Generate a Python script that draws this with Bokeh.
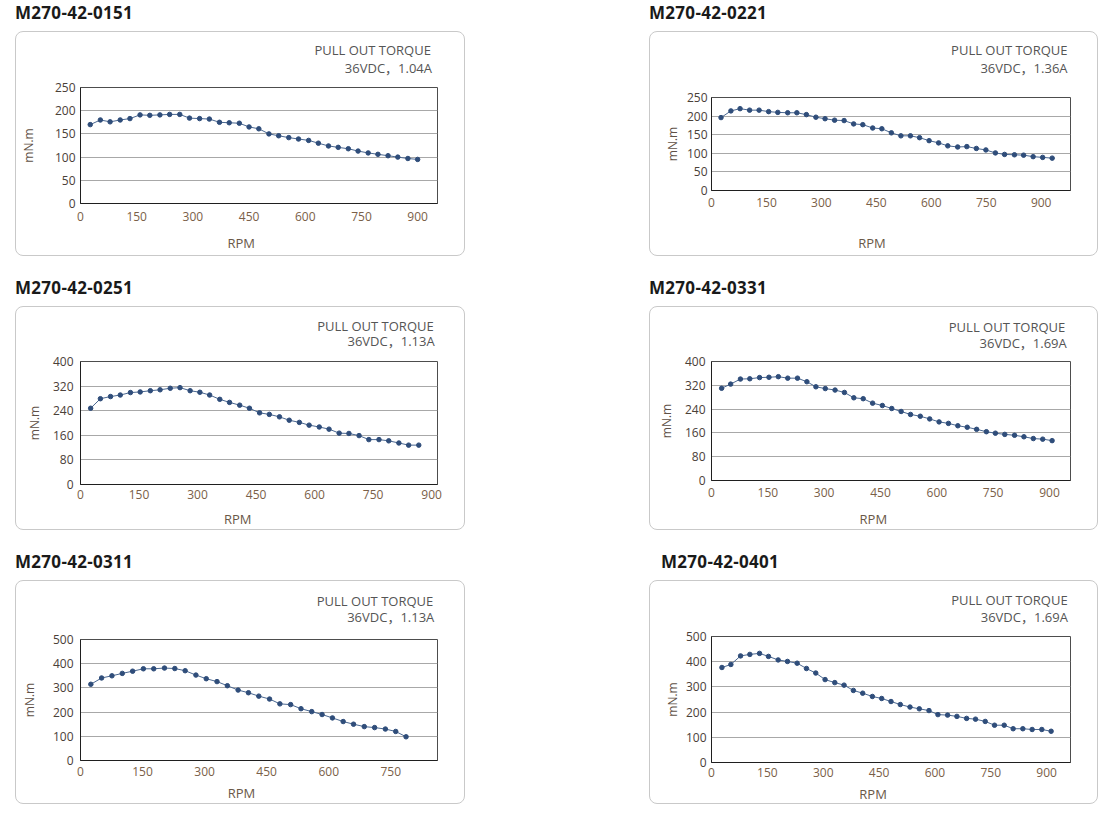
from bokeh.plotting import figure
from bokeh.models import Range1d, FixedTicker, LinearAxis, Div, Spacer
from bokeh.layouts import column, row
from bokeh.embed import file_html
from bokeh.resources import INLINE

FONT = "Open Sans"
FONT_CJK = "'Open Sans', 'Noto Sans CJK SC'"

# ---------------- data ----------------
model_names = ["M270-42-0151", "M270-42-0221", "M270-42-0251",
               "M270-42-0331", "M270-42-0311", "M270-42-0401"]
supply_labels = ["36VDC，1.04A", "36VDC，1.36A", "36VDC，1.13A",
                 "36VDC，1.69A", "36VDC，1.13A", "36VDC，1.69A"]
chart_caption = "PULL OUT TORQUE"
x_title = "RPM"
y_title = "mN.m"

rpm_0151 = [26, 53, 79, 106, 132, 159, 185, 212, 238, 265, 291, 318, 344, 371, 397, 424, 450,
            476, 503, 529, 556, 582, 609, 635, 662, 688, 715, 741, 768, 794, 821, 847, 874, 900]
torque_0151 = [170, 180, 176, 180, 183, 191, 190, 191, 192, 192, 184, 183, 182, 175, 174, 173, 165,
               161, 150, 146, 142, 139, 136, 130, 124, 121, 118, 113, 109, 106, 103, 100, 97, 95]

rpm_0221 = [26, 53, 78, 104, 130, 156, 181, 208, 233, 259, 285, 310, 336, 362, 388, 413, 440, 465,
            491, 517, 543, 568, 594, 620, 645, 672, 697, 723, 749, 775, 800, 827, 852, 878, 904, 930]
torque_0221 = [196, 214, 220, 216, 216, 212, 210, 209, 209, 204, 197, 193, 189, 188, 179, 177, 168, 166,
               155, 147, 147, 142, 134, 128, 120, 117, 118, 113, 109, 101, 97, 96, 95, 91, 89, 87]

rpm_0251 = [26, 51, 77, 102, 128, 153, 179, 204, 230, 255, 281, 306, 331, 357, 382, 408, 433,
            459, 484, 510, 535, 561, 586, 612, 637, 663, 688, 714, 739, 765, 790, 816, 841, 867]
torque_0251 = [248, 279, 286, 291, 299, 301, 305, 308, 313, 315, 305, 300, 291, 277, 267, 258, 248,
               233, 228, 220, 209, 202, 193, 187, 180, 167, 166, 159, 146, 146, 142, 135, 128, 128]

rpm_0331 = [27, 51, 77, 102, 128, 153, 178, 203, 229, 254, 278, 303, 329, 354, 379, 404, 429, 455,
            480, 505, 530, 556, 581, 606, 631, 656, 681, 706, 732, 756, 781, 807, 832, 857, 882, 907]
torque_0331 = [310, 324, 341, 342, 346, 347, 349, 344, 344, 332, 315, 309, 304, 296, 278, 275, 260, 252,
               242, 232, 222, 216, 207, 197, 192, 184, 179, 172, 164, 159, 155, 152, 147, 141, 139, 134]

rpm_0311 = [25, 51, 76, 101, 126, 152, 177, 203, 228, 253, 279, 304, 330, 355, 381, 406,
            431, 457, 482, 508, 533, 559, 584, 609, 635, 660, 686, 711, 737, 762, 787]
torque_0311 = [315, 341, 350, 360, 369, 379, 379, 382, 380, 371, 353, 338, 326, 309, 291, 280,
               266, 254, 234, 231, 214, 202, 190, 176, 161, 150, 140, 136, 130, 120, 98]

rpm_0401 = [28, 52, 78, 103, 129, 153, 179, 204, 230, 255, 280, 305, 331, 356, 381, 406, 432, 457,
            482, 507, 533, 558, 584, 608, 634, 659, 685, 709, 735, 760, 786, 810, 836, 861, 887, 912]
torque_0401 = [377, 389, 423, 429, 433, 421, 407, 401, 394, 373, 355, 329, 317, 307, 286, 275, 262, 254,
               242, 230, 220, 213, 206, 190, 188, 183, 175, 172, 163, 148, 148, 134, 134, 131, 131, 124]

x_ticks_900 = [0, 150, 300, 450, 600, 750, 900]
x_ticks_750 = [0, 150, 300, 450, 600, 750]
y_ticks_250 = [0, 50, 100, 150, 200, 250]
y_ticks_400 = [0, 80, 160, 240, 320, 400]
y_ticks_500 = [0, 100, 200, 300, 400, 500]

series = [
    (rpm_0151, torque_0151, 953, 250, x_ticks_900, y_ticks_250),
    (rpm_0221, torque_0221, 980, 250, x_ticks_900, y_ticks_250),
    (rpm_0251, torque_0251, 915, 400, x_ticks_900, y_ticks_400),
    (rpm_0331, torque_0331, 956, 400, x_ticks_900, y_ticks_400),
    (rpm_0311, torque_0311, 863, 500, x_ticks_750, y_ticks_500),
    (rpm_0401, torque_0401, 964, 500, x_ticks_900, y_ticks_500),
]

# ---------------- layout / style ----------------
# W, H, left, right, top, bottom, ytick_standoff, ylabel_standoff, xtick_standoff,
# caption_right, supply_right, supply_standoff, caption_standoff, rpm_x, rpm_standoff
geoms = [
    (450, 225, 61, 29, 55, 54, 5, 15, 8, 414, 415, 11, -3, 223, 10),
    (449, 225, 60, 29, 65, 67, 4, 3, 7, 417, 417, 21, -3, 221, 24),
    (450, 224, 64, 27, 54, 47, 7, 7, 5, 419, 420, 12, -6, 222, 8),
    (449, 224, 61, 29, 54, 51, 6, 7, 7, 415, 416, 10, -5, 223, 10),
    (450, 224, 60, 28, 58, 45, 7, 12, 6, 417, 418, 14, -5, 223, 5),
    (449, 224, 61, 26, 55, 43, 5, 2, 5, 420, 420, 11, -4, 224, 5),
]

CAPTION_W = 117   # px width of the 13px caption text
SUPPLY_W = 87     # px width of the 13px supply text

LINE_COLOR = "#4a6790"
DOT_COLOR = "#2f4d7a"


def text_axis(pos, text, standoff, size, color, font=FONT):
    return LinearAxis(ticker=FixedTicker(ticks=[pos]),
                      major_label_overrides={pos: text},
                      major_label_standoff=standoff, axis_line_color=None,
                      major_tick_in=0, major_tick_out=0,
                      minor_tick_in=0, minor_tick_out=0,
                      major_label_text_font=font, major_label_text_font_size=size,
                      major_label_text_color=color)


def make_panel(k):
    xs, ys, xmax, ymax, xt, yt = series[k]
    (W, H, bl, br, bt, bb, yts, yls, xts,
     cap_r, sup_r, sup_so, cap_so, rpm_x, rpm_so) = geoms[k]
    fw = W - bl - br
    p = figure(width=W, height=H, output_backend="svg", toolbar_location=None,
               x_range=Range1d(0, xmax), y_range=Range1d(0, ymax),
               min_border_left=bl, min_border_right=br,
               min_border_top=bt, min_border_bottom=bb,
               background_fill_color=None, border_fill_color=None,
               outline_line_color="#4d4d4d", outline_line_width=1,
               styles={"border": "1px solid #c9c9c9", "border-radius": "8px",
                       "overflow": "hidden", "box-sizing": "border-box"})
    p.xgrid.visible = False
    p.ygrid.grid_line_color = "#a8a8a8"
    p.ygrid.grid_line_width = 1
    p.xaxis.ticker = FixedTicker(ticks=xt)
    p.yaxis.ticker = FixedTicker(ticks=yt)
    for ax in (p.xaxis, p.yaxis):
        ax.major_tick_out = 0
        ax.major_tick_in = 0
        ax.minor_tick_out = 0
        ax.minor_tick_in = 0
        ax.axis_line_color = "#1f1f1f"
        ax.major_label_text_font = FONT
        ax.major_label_text_font_size = "12px"
    p.xaxis.major_label_text_color = "#7a6048"
    p.yaxis.major_label_text_color = "#4a4038"
    p.xaxis.major_label_standoff = xts
    p.yaxis.major_label_standoff = yts
    p.yaxis.axis_label = y_title
    p.yaxis.axis_label_text_font = FONT
    p.yaxis.axis_label_text_font_size = "12px"
    p.yaxis.axis_label_text_font_style = "normal"
    p.yaxis.axis_label_text_color = "#5e5046"
    p.yaxis.axis_label_standoff = yls

    p.line(xs, ys, line_color=LINE_COLOR, line_width=1)
    p.scatter(xs, ys, size=4.5, fill_color=DOT_COLOR, line_color=DOT_COLOR)

    def to_data(px):  # px measured from the box's left edge
        return int(round((px - bl) / fw * xmax))

    # captions above the frame (supply line closest to the frame)
    p.add_layout(text_axis(to_data(sup_r - SUPPLY_W / 2), supply_labels[k], sup_so,
                           "13px", "#555555", FONT_CJK), "above")
    p.add_layout(text_axis(to_data(cap_r - CAPTION_W / 2), chart_caption, cap_so,
                           "13px", "#555555"), "above")
    # x title below the tick labels
    p.add_layout(text_axis(to_data(rpm_x), x_title, rpm_so, "13px", "#6a5848"), "below")
    return p


def make_title(k, pad_left):
    return Div(text=model_names[k], width=430, height=24,
               styles={"font-family": FONT, "font-size": "17px", "font-weight": "bold",
                       "color": "#1a1a1a", "line-height": "12px",
                       "letter-spacing": "0.3px", "margin": "0", "padding": "0",
                       "padding-left": f"{pad_left}px", "overflow": "visible"})


panels = [make_panel(k) for k in range(6)]

left_col = column(
    Spacer(height=7), make_title(0, 0), panels[0], Spacer(height=26),
    make_title(2, 0), panels[2], Spacer(height=26),
    make_title(4, 0), panels[4],
    spacing=0)
right_col = column(
    Spacer(height=7), make_title(1, 0), panels[1], Spacer(height=26),
    make_title(3, 0), panels[3], Spacer(height=26),
    make_title(5, 12), panels[5],
    spacing=0)

page = row(Spacer(width=15), left_col, Spacer(width=184), right_col, spacing=0)

open("out.html", "w").write(file_html(page, INLINE))
